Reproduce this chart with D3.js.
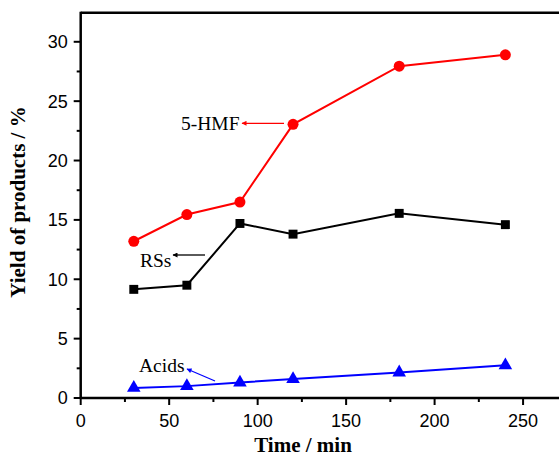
<!DOCTYPE html>
<html>
<head>
<meta charset="utf-8">
<script src="https://cdn.jsdelivr.net/npm/d3@7"></script>
<style>
  body { margin: 0; background: #fff; }
  svg { display: block; }
  .tick-label { font-family: "Liberation Sans", Arial, sans-serif; font-size: 18px; fill: #000; }
  .axis-title { font-family: "Liberation Serif", "Times New Roman", serif; font-size: 21px; font-weight: bold; fill: #000; }
  .note { font-family: "Liberation Serif", "Times New Roman", serif; font-size: 19.5px; }
</style>
</head>
<body>
<div id="chart"></div>
<script>
// data
var times = [30, 60, 90, 120, 180, 240];
var hmf = [13.2, 15.45, 16.5, 23.05, 27.95, 28.9];
var rss = [9.15, 9.5, 14.7, 13.8, 15.55, 14.6];
var acids = [0.85, 1.0, 1.3, 1.6, 2.15, 2.75];
var xTicks = [0, 50, 100, 150, 200, 250];
var yTicks = [0, 5, 10, 15, 20, 25, 30];

var w = 559, h = 458;
var svg = d3.select("#chart").append("svg")
  .attr("width", w)
  .attr("height", h);

var x = d3.scaleLinear().domain([0, 272]).range([80.7, 562]);
var y = d3.scaleLinear().domain([0, 32.45]).range([398, 12.7]);

// frame: top line (right side is cut off)
svg.append("line")
  .attr("x1", x(0)).attr("x2", w)
  .attr("y1", y.range()[1]).attr("y2", y.range()[1])
  .attr("stroke", "#000").attr("stroke-width", 2.5);

// y axis
var yAxis = svg.append("g");
yAxis.append("line")
  .attr("x1", x(0)).attr("x2", x(0))
  .attr("y1", y.range()[1] - 1).attr("y2", y(0) + 1)
  .attr("stroke", "#000").attr("stroke-width", 2.5);
yAxis.selectAll(".maj").data(yTicks).enter().append("line")
  .attr("x1", x(0) - 7).attr("x2", x(0))
  .attr("y1", function(d) { return y(d); }).attr("y2", function(d) { return y(d); })
  .attr("stroke", "#000").attr("stroke-width", 2);
yAxis.selectAll(".min").data(d3.range(2.5, 32.5, 5)).enter().append("line")
  .attr("x1", x(0) - 4).attr("x2", x(0))
  .attr("y1", function(d) { return y(d); }).attr("y2", function(d) { return y(d); })
  .attr("stroke", "#000").attr("stroke-width", 2);
yAxis.selectAll("text").data(yTicks).enter().append("text")
  .attr("class", "tick-label")
  .attr("x", x(0) - 13)
  .attr("y", function(d) { return y(d); })
  .attr("dy", "0.36em")
  .attr("text-anchor", "end")
  .text(function(d) { return d; });

// x axis
var xAxis = svg.append("g");
xAxis.append("line")
  .attr("x1", x(0) - 1).attr("x2", w)
  .attr("y1", y(0)).attr("y2", y(0))
  .attr("stroke", "#000").attr("stroke-width", 2.5);
xAxis.selectAll(".maj").data(xTicks).enter().append("line")
  .attr("x1", function(d) { return x(d); }).attr("x2", function(d) { return x(d); })
  .attr("y1", y(0)).attr("y2", y(0) + 7)
  .attr("stroke", "#000").attr("stroke-width", 2);
xAxis.selectAll(".min").data(d3.range(25, 275, 50)).enter().append("line")
  .attr("x1", function(d) { return x(d); }).attr("x2", function(d) { return x(d); })
  .attr("y1", y(0)).attr("y2", y(0) + 4)
  .attr("stroke", "#000").attr("stroke-width", 2);
xAxis.selectAll("text").data(xTicks).enter().append("text")
  .attr("class", "tick-label")
  .attr("x", function(d) { return x(d); })
  .attr("y", 427)
  .attr("text-anchor", "middle")
  .text(function(d) { return d; });

// axis titles
svg.append("text").attr("class", "axis-title")
  .attr("x", 303).attr("y", 452)
  .attr("text-anchor", "middle")
  .text("Time / min");
svg.append("text").attr("class", "axis-title")
  .attr("transform", "translate(25,202) rotate(-90)")
  .attr("text-anchor", "middle")
  .text("Yield of products / %");

// series
var line = d3.line()
  .x(function(d) { return x(d[0]); })
  .y(function(d) { return y(d[1]); });

function series(vals, color, shape, size) {
  var pts = d3.zip(times, vals);
  svg.append("path").datum(pts)
    .attr("d", line)
    .attr("fill", "none")
    .attr("stroke", color)
    .attr("stroke-width", 2);
  svg.selectAll(null).data(pts).enter().append("path")
    .attr("transform", function(d) { return "translate(" + x(d[0]) + "," + y(d[1]) + ")"; })
    .attr("d", d3.symbol().type(shape).size(size))
    .attr("fill", color);
}
series(hmf, "#ff0000", d3.symbolCircle, 95);
series(rss, "#000000", d3.symbolSquare, 80);
series(acids, "#0000ff", d3.symbolTriangle, 80);

// annotations with arrows
var defs = svg.append("defs");
function marker(id, color) {
  defs.append("marker")
    .attr("id", id)
    .attr("viewBox", "0 0 10 10")
    .attr("refX", 9).attr("refY", 5)
    .attr("markerWidth", 7).attr("markerHeight", 5)
    .attr("markerUnits", "userSpaceOnUse")
    .attr("orient", "auto")
    .append("path").attr("d", "M0,0 L10,5 L0,10 Z").attr("fill", color);
}
marker("ar-red", "#ff0000");
marker("ar-black", "#000000");
marker("ar-blue", "#0000ff");

function note(label, tx, ty, ax1, ay1, ax2, ay2, color, mid) {
  svg.append("text").attr("class", "note")
    .attr("x", tx).attr("y", ty)
    .attr("dy", "0.35em")
    .attr("fill", "#000")
    .text(label);
  svg.append("line")
    .attr("x1", ax1).attr("y1", ay1).attr("x2", ax2).attr("y2", ay2)
    .attr("stroke", color).attr("stroke-width", 1.3)
    .attr("marker-end", "url(#" + mid + ")");
}
note("5-HMF", 181, 123.5, 284, 123.3, 242, 123.3, "#ff0000", "ar-red");
note("RSs", 140, 260, 205, 255, 173, 255, "#000000", "ar-black");
note("Acids", 139, 365, 215, 381, 187, 369, "#0000ff", "ar-blue");
</script>
</body>
</html>
